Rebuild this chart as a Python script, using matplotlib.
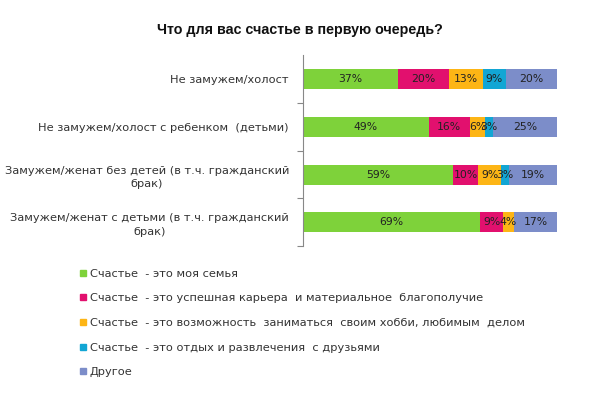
import numpy as np
import matplotlib as mpl
import matplotlib.pyplot as plt
from matplotlib.lines import Line2D

# ── data ─────────────────────────────────────────────────────────────────────
categories = [
    "Не замужем/холост",
    "Не замужем/холост с ребенком  (детьми)",
    "Замужем/женат без детей (в т.ч. гражданский\nбрак)",
    "Замужем/женат с детьми (в т.ч. гражданский\nбрак)",
]
series_names = [
    "Счастье  - это моя семья",
    "Счастье  - это успешная карьера  и материальное  благополучие",
    "Счастье  - это возможность  заниматься  своим хобби, любимым  делом",
    "Счастье  - это отдых и развлечения  с друзьями",
    "Другое",
]
family   = [37, 49, 59, 69]
career   = [20, 16, 10, 9]
hobby    = [13, 6, 9, 4]
friends  = [9, 3, 3, 0]
other    = [20, 25, 19, 17]
colors = ["#7ED23A", "#E2106E", "#FDB515", "#12A6D4", "#7C8DC9"]

title = "Что для вас счастье в первую очередь?"

# ── style ────────────────────────────────────────────────────────────────────
mpl.rcParams.update({
    "font.family": ["DejaVu Sans"],
    "figure.facecolor": "white",
    "axes.facecolor": "white",
})

fig = plt.figure(figsize=(5.96, 3.97), dpi=100)
ax = fig.add_axes([0.508, 0.380, 0.427, 0.481])

values = np.array([family, career, hobby, friends, other], dtype=float)
shares = values / values.sum(axis=0) * 100   # 100% stacked
y = np.arange(len(categories))
left = np.zeros(len(categories))
for vals, shown, col in zip(shares, values, colors):
    ax.barh(y, vals, left=left, height=0.42, color=col, edgecolor="none")
    for yi, l, v, s in zip(y, left, vals, shown):
        if s > 0:
            ax.text(l + v / 2, yi, f"{int(s)}%", ha="center", va="center",
                    fontsize=7.8, color="#222222")
    left += vals

ax.set_xlim(0, 100)
ax.set_ylim(len(categories) - 0.5, -0.5)
ax.set_xticks([])
ax.set_yticks(y)
ax.set_yticklabels(categories, fontsize=8.2, color="#333333")
for t in ax.get_yticklabels():
    t.set_multialignment("center")
    t.set_linespacing(1.45)
ax.set_yticks(np.arange(len(categories)) + 0.5, minor=True)
ax.tick_params(axis="y", which="major", length=0, pad=10)
ax.tick_params(axis="y", which="minor", length=4, color="#888888", width=0.8)
for s in ["top", "right", "bottom"]:
    ax.spines[s].set_visible(False)
ax.spines["left"].set_color("#888888")
ax.spines["left"].set_linewidth(0.8)

fig.text(0.503, 0.925, title, ha="center", va="center",
         fontfamily="Liberation Sans", fontsize=10.3, fontweight="bold",
         color="#111111")

handles = [Line2D([], [], marker="s", linestyle="none", markersize=5,
                  markerfacecolor=c, markeredgecolor=c) for c in colors]
fig.legend(handles, series_names, loc="upper left",
           bbox_to_anchor=(0.124, 0.337), frameon=False, fontsize=8.2,
           labelcolor="#333333", handlelength=0.6, handletextpad=0.3,
           labelspacing=1.28, borderpad=0)

fig.savefig("out.png", dpi=100, facecolor="white")
